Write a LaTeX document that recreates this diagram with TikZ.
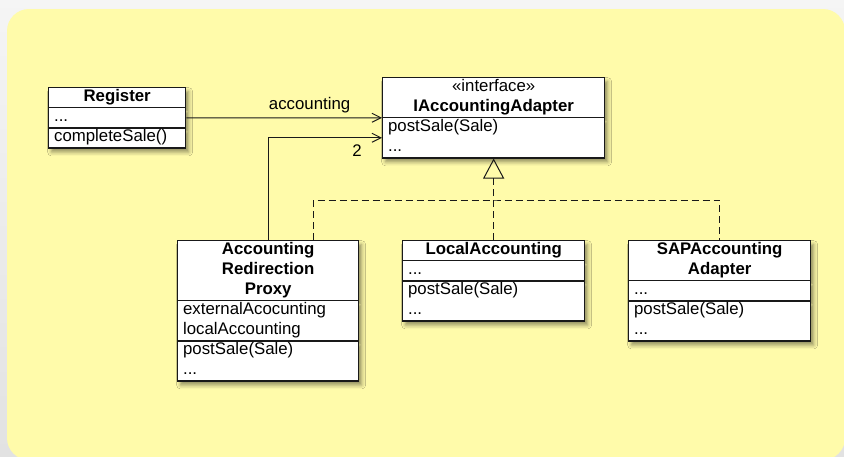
\documentclass[tikz,border=0pt]{standalone}
\usepackage{fontspec}
\setmainfont{Liberation Sans}
\usepackage{tikz}
\usetikzlibrary{shapes.multipart,shadows.blur,arrows.meta,positioning}
\definecolor{notebg}{RGB}{255,251,170}
\definecolor{framebg}{RGB}{226,226,226}
\definecolor{umlline}{RGB}{25,25,25}
\newcommand{\umlfont}{\fontsize{16.8}{20}\selectfont}
\tikzset{
	umlclass/.style={rectangle split, rectangle split parts=3, rectangle split draw splits=true,
		draw=umlline, line width=1.3pt, fill=white, inner xsep=5.5pt, inner ysep=-0.6pt,
		align=left, font=\umlfont, anchor=north west,
		blur shadow={shadow xshift=3pt, shadow yshift=-4pt, shadow blur radius=4pt, shadow opacity=45}},
	assoc/.style={draw=umlline, line width=1pt, font=\umlfont, -{Straight Barb[length=9pt,width=9pt]}},
	realize/.style={draw=umlline, line width=1pt, dash pattern=on 7pt off 4pt}
}

\begin{document}
\begin{tikzpicture}[x=1pt, y=-1pt]
	\useasboundingbox (0,0) rectangle (844,456);
	\shade[top color=gray!8, bottom color=framebg] (0,0) rectangle (844,456);
	\fill[notebg, rounded corners=22pt] (7,9) rectangle (845,460);

	\node[umlclass, text width=126pt] (register) at (48,87)
		{\centering\strut\textbf{Register}\strut\par
		\nodepart{two}\strut...\strut
		\nodepart{three}\strut completeSale()\strut};
	\node[umlclass, rectangle split parts=2, text width=211pt] (iacc) at (382,77)
		{\centering\strut«interface»\\\textbf{IAccountingAdapter}\strut\par
		\nodepart{two}\strut postSale(Sale)\\...\strut};
	\node[umlclass, text width=170pt] (proxy) at (177,240)
		{\centering\strut\textbf{Accounting}\\\textbf{Redirection}\\\textbf{Proxy}\strut\par
		\nodepart{two}\strut externalAcocunting\\localAccounting\strut
		\nodepart{three}\strut postSale(Sale)\\...\strut};
	\node[umlclass, text width=171pt] (local) at (402,240)
		{\centering\strut\textbf{LocalAccounting}\strut\par
		\nodepart{two}\strut...\strut
		\nodepart{three}\strut postSale(Sale)\\...\strut};
	\node[umlclass, text width=171pt] (sap) at (628,240)
		{\centering\strut\textbf{SAPAccounting}\\\textbf{Adapter}\strut\par
		\nodepart{two}\strut...\strut
		\nodepart{three}\strut postSale(Sale)\\...\strut};

	\draw[assoc] (register.east) -- node[pos=0.63, above=1pt] {accounting} (iacc.text split west);
	\draw[assoc] (proxy.north) |- node[pos=0.89, below=3pt] {2} ([yshift=-20pt]iacc.text split west);

	\coordinate (bus) at ([yshift=40pt]local.north);
	\draw[realize, -{Triangle[open, length=20pt, width=21pt]}] (local.north) -- (iacc.south);
	\draw[realize] ([xshift=45.5pt]proxy.north) |- (bus) -| (sap.north);
\end{tikzpicture}
\end{document}
